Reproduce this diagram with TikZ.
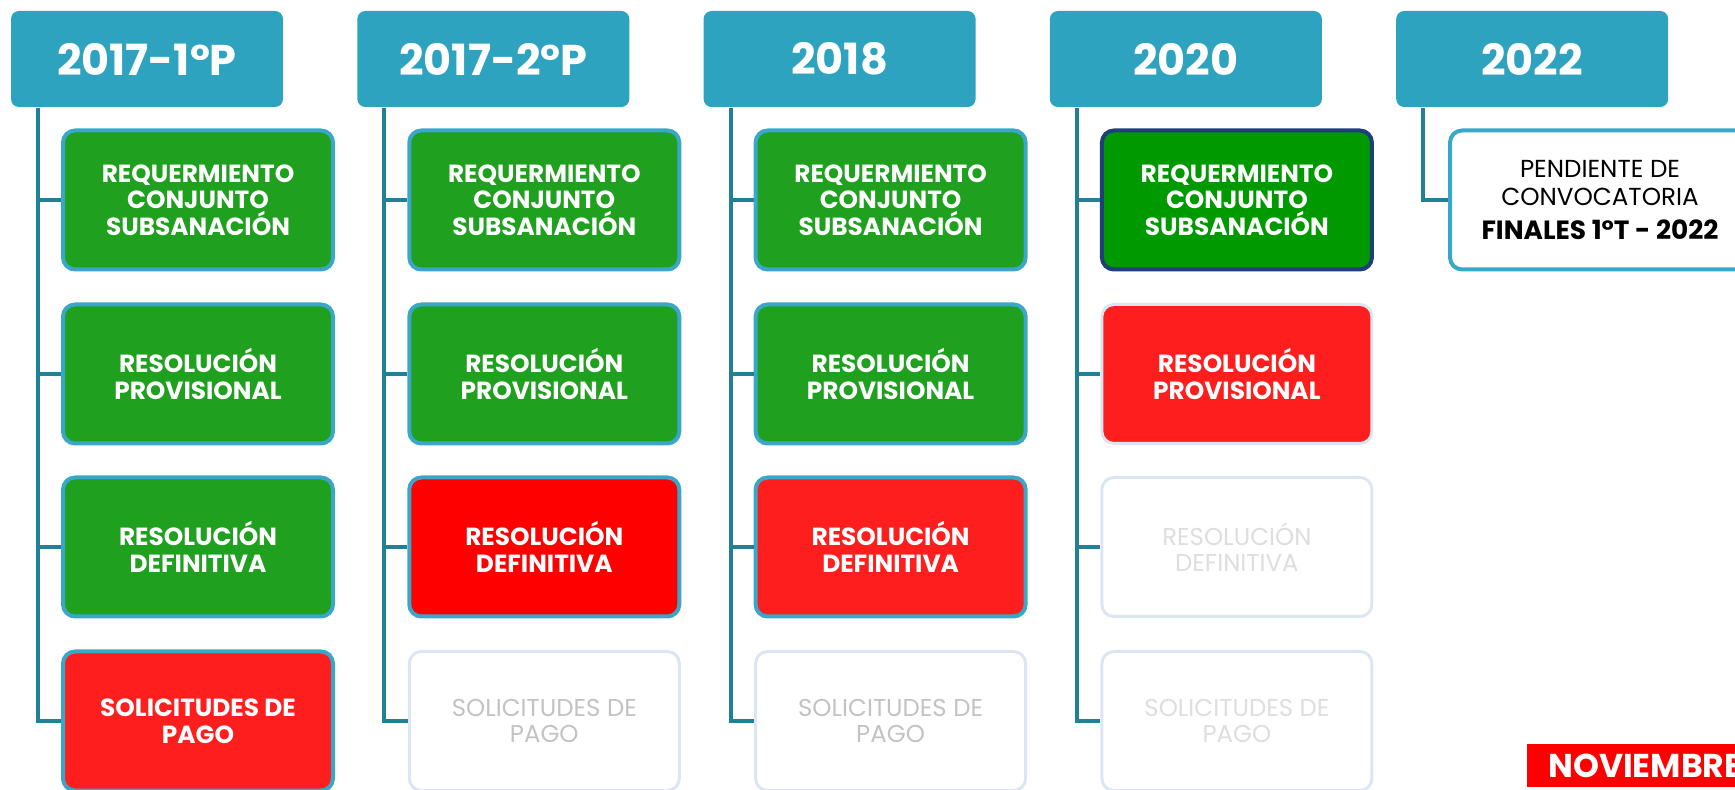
\documentclass[tikz,border=0pt]{standalone}
\usepackage{fontspec}
\setmainfont{Poppins}
\usetikzlibrary{positioning}

\definecolor{headteal}{RGB}{46,163,192}
\definecolor{trunkteal}{RGB}{33,127,150}
\definecolor{edgeteal}{RGB}{58,166,200}
\definecolor{okgreen}{RGB}{31,160,31}
\definecolor{deepgreen}{RGB}{0,153,0}
\definecolor{navyedge}{RGB}{31,63,120}
\definecolor{warnred}{RGB}{255,30,30}
\definecolor{purered}{RGB}{255,0,0}
\definecolor{ghostedge}{RGB}{220,230,242}
\definecolor{ghosttext}{RGB}{195,195,195}
\definecolor{paletext}{RGB}{222,222,222}

\tikzset{
  year/.style={fill=headteal, rounded corners=4pt, minimum width=136pt, minimum height=48pt,
    text=white, font=\bfseries\fontsize{21.5}{24}\selectfont},
  stage/.style={draw=edgeteal, line width=2pt, rounded corners=6pt, minimum width=135pt,
    minimum height=69.5pt, align=center, text=white, font=\bfseries\fontsize{12.4}{13.3}\selectfont},
  done/.style={stage, fill=okgreen},
  late/.style={stage, fill=warnred},
  todo/.style={stage, draw=ghostedge, line width=1.5pt, fill=white, text=ghosttext,
    font=\fontsize{12.2}{13.3}\selectfont},
  trunk/.style={draw=trunkteal, line width=2pt},
  month/.style={fill=purered, text=white, inner xsep=10.5pt, inner ysep=5pt,
    font=\bfseries\fontsize{16.5}{18}\selectfont},
}

\begin{document}
\begin{tikzpicture}[x=0.5pt, y=-0.5pt]
  \useasboundingbox (0,0) rectangle (1735,790);
  \clip (0,0) rectangle (1735,790);

  % Year headers
  \foreach \yr [count=\c from 1] in {2017-1°P, 2017-2°P, 2018, 2020, 2022}
    \node[year] (y\c) at (147+346.3*\c-346.3, 59) {\yr};

  % 2017 - first period
  \node[done] (req1) at (198, 200) {REQUERMIENTO\\CONJUNTO\\SUBSANACIÓN};
  \node[done] (prov1) at (198, 374) {RESOLUCIÓN\\PROVISIONAL};
  \node[done] (def1) at (198, 547) {RESOLUCIÓN\\DEFINITIVA};
  \node[late] (pago1) at (198, 721) {SOLICITUDES DE\\PAGO};

  % 2017 - second period
  \node[done] (req2) at (544.3, 200) {REQUERMIENTO\\CONJUNTO\\SUBSANACIÓN};
  \node[done] (prov2) at (544.3, 374) {RESOLUCIÓN\\PROVISIONAL};
  \node[late, fill=purered] (def2) at (544.3, 547) {RESOLUCIÓN\\DEFINITIVA};
  \node[todo] (pago2) at (544.3, 721) {SOLICITUDES DE\\PAGO};

  % 2018
  \node[done] (req3) at (890.6, 200) {REQUERMIENTO\\CONJUNTO\\SUBSANACIÓN};
  \node[done] (prov3) at (890.6, 374) {RESOLUCIÓN\\PROVISIONAL};
  \node[late] (def3) at (890.6, 547) {RESOLUCIÓN\\DEFINITIVA};
  \node[todo] (pago3) at (890.6, 721) {SOLICITUDES DE\\PAGO};

  % 2020
  \node[done, fill=deepgreen, draw=navyedge] (req4) at (1236.9, 200) {REQUERMIENTO\\CONJUNTO\\SUBSANACIÓN};
  \node[late, draw=ghostedge, line width=1.5pt] (prov4) at (1236.9, 374) {RESOLUCIÓN\\PROVISIONAL};
  \node[todo, text=paletext] (def4) at (1236.9, 547) {RESOLUCIÓN\\DEFINITIVA};
  \node[todo, text=paletext] (pago4) at (1236.9, 721) {SOLICITUDES DE\\PAGO};

  % 2022
  \node[stage, fill=white, text=black, minimum width=150pt, font=\fontsize{12.3}{14}\selectfont]
    (conv5) at (1600, 200) {PENDIENTE DE\\CONVOCATORIA\\[3pt]{\bfseries\fontsize{13.2}{14}\selectfont FINALES 1°T - 2022}};

  % Trunks
  \coordinate (t1) at (38, 108);
  \coordinate (t2) at (384.3, 108);
  \coordinate (t3) at (730.6, 108);
  \coordinate (t4) at (1076.9, 108);
  \coordinate (t5) at (1423.2, 108);
  \foreach \c in {1,2,3,4} {
    \draw[trunk] (t\c) |- (req\c.west);
    \draw[trunk] (t\c) |- (prov\c.west);
    \draw[trunk] (t\c) |- (def\c.west);
    \draw[trunk] (t\c) |- (pago\c.west);
  }
  \draw[trunk] (t5) |- (conv5.west);

  % Month tag
  \node[month, anchor=base west] (nov) at (1527, 777) {NOVIEMBRE};
\end{tikzpicture}
\end{document}
